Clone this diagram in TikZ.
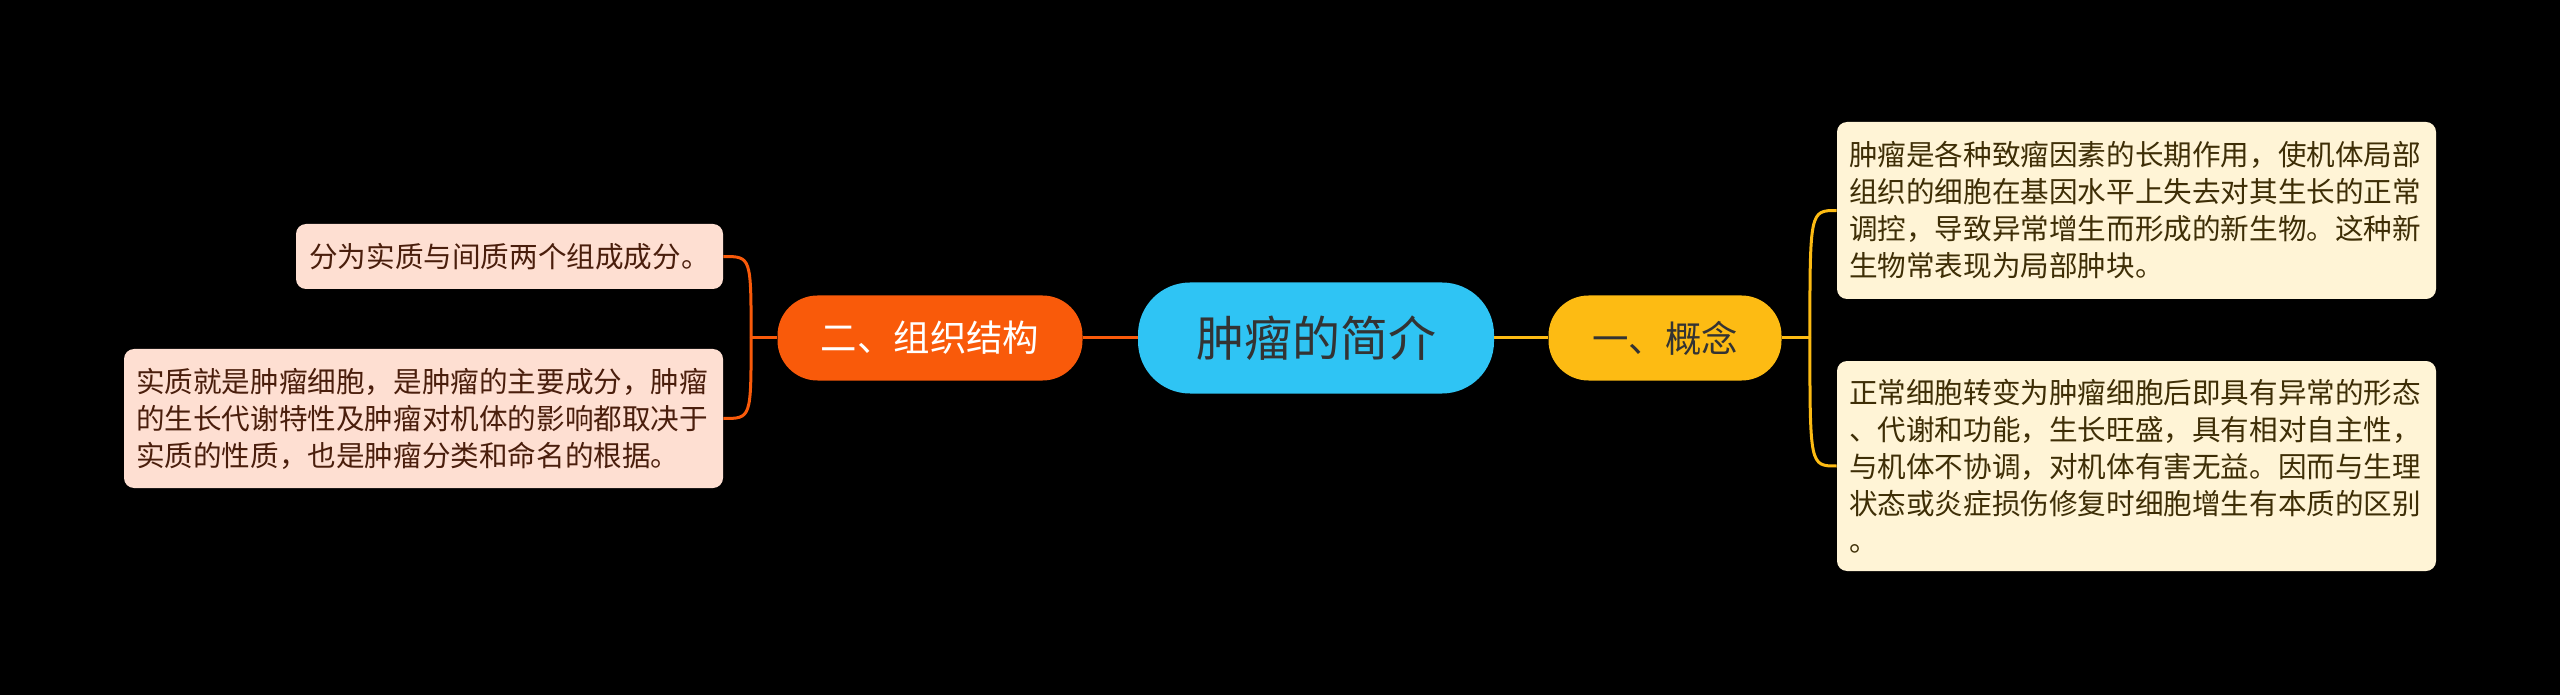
\documentclass[tikz,border=0pt]{standalone}
\usepackage{fontspec}
\setmainfont{Noto Sans CJK SC}
\usepackage{tikz}
\definecolor{rootblue}{HTML}{2FC4F4}
\definecolor{branchorange}{HTML}{F95A0A}
\definecolor{branchyellow}{HTML}{FDBB13}
\definecolor{leafpeach}{HTML}{FEDFD2}
\definecolor{leafcream}{HTML}{FFF4D6}
\definecolor{inkbrown}{HTML}{4A1E0C}
\definecolor{inkolive}{HTML}{3E2E06}

\begin{document}
\begin{tikzpicture}[x=0.5pt, y=-0.5pt,
    topic/.style={fill=rootblue, text=black!80, rounded corners=26pt, minimum width=178pt, minimum height=55.5pt, font=\fontsize{24}{28}\selectfont},
    branch/.style={rounded corners=20pt, minimum height=42.5pt, font=\fontsize{18.2}{22}\selectfont},
    leaf/.style={rounded corners=5pt, align=left, inner xsep=6pt, font=\fontsize{14.3}{18.5}\selectfont},
    leftline/.style={draw=branchorange, line width=1.5pt},
    rightline/.style={draw=branchyellow, line width=1.5pt}]
    % Background
    \fill[black] (0,0) rectangle (2560,695);
    \useasboundingbox (0,0) rectangle (2560,695);

    % Central topic
    \node[topic] (Root) at (1316,338) {肿瘤的简介};

    % Branches
    \node[branch, fill=branchorange, text=white, minimum width=152.5pt] (Struct) at (930,338) {二、组织结构};
    \node[branch, fill=branchyellow, text=black!80, minimum width=116.5pt] (Concept) at (1665,338) {一、概念};

    % Leaves of the left branch
    \node[leaf, fill=leafpeach, text=inkbrown, minimum width=213.5pt, minimum height=32.5pt] (StructA) at (509.5,256.5) {分为实质与间质两个组成成分。};
    \node[leaf, fill=leafpeach, text=inkbrown, text width=287.5pt, minimum height=69.5pt] (StructB) at (423.5,418.5) {实质就是肿瘤细胞，是肿瘤的主要成分，肿瘤\\的生长代谢特性及肿瘤对机体的影响都取决于\\实质的性质，也是肿瘤分类和命名的根据。};

    % Leaves of the right branch
    \node[leaf, fill=leafcream, text=inkolive, text width=287.5pt, minimum height=88.5pt] (ConceptA) at (2136.5,210.5) {肿瘤是各种致瘤因素的长期作用，使机体局部\\组织的细胞在基因水平上失去对其生长的正常\\调控，导致异常增生而形成的新生物。这种新\\生物常表现为局部肿块。};
    \node[leaf, fill=leafcream, text=inkolive, text width=287.5pt, minimum height=105pt] (ConceptB) at (2136.5,466) {正常细胞转变为肿瘤细胞后即具有异常的形态\\、代谢和功能，生长旺盛，具有相对自主性，\\与机体不协调，对机体有害无益。因而与生理\\状态或炎症损伤修复时细胞增生有本质的区别\\。};

    % Connect the topic to the branches
    \draw[leftline] (Root.west) -- (Struct.east);
    \draw[rightline] (Root.east) -- (Concept.west);

    % Brackets to the leaves
    \draw[leftline] (Struct.west) -- ++(-26,0) coordinate (StructJoin);
    \draw[rightline] (Concept.east) -- ++(28,0) coordinate (ConceptJoin);
    \foreach \n in {StructA, StructB}
        \draw[leftline] (StructJoin) .. controls (StructJoin |- \n.east) .. (\n.east);
    \foreach \n in {ConceptA, ConceptB}
        \draw[rightline] (ConceptJoin) .. controls (ConceptJoin |- \n.west) .. (\n.west);
\end{tikzpicture}
\end{document}
